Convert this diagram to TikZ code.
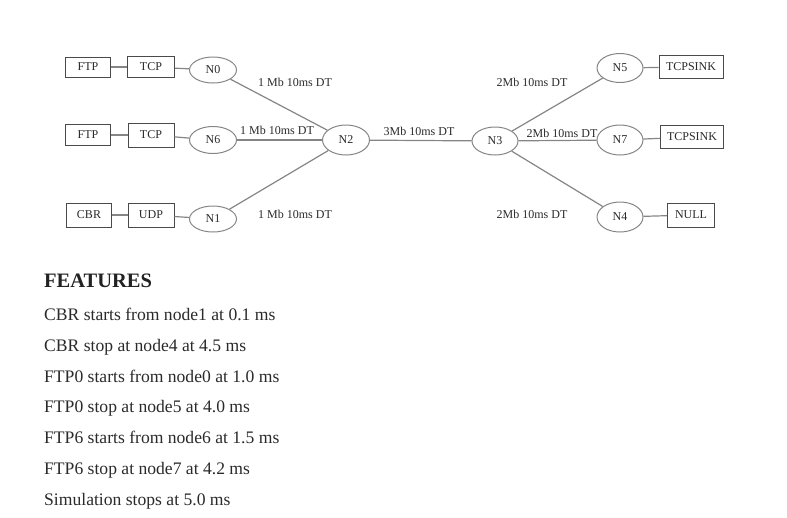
\documentclass[tikz,border=0pt]{standalone}
\usepackage{fontspec}
\setmainfont{Liberation Serif}
\usetikzlibrary{shapes.geometric}
\definecolor{ink}{HTML}{2A2A2A}
\definecolor{wire}{HTML}{858585}
\begin{document}
\begin{tikzpicture}[x=1pt,y=-1pt,
  box/.style={draw=ink!85,line width=0.9pt,rectangle,inner sep=0pt,font=\fontsize{12}{14}\selectfont,text=ink},
  nd/.style={draw=wire,line width=1pt,ellipse,inner sep=0pt,minimum width=47pt,minimum height=28pt,font=\fontsize{12}{14}\selectfont,text=ink},
  wirel/.style={draw=wire,line width=1.2pt},
  lbl/.style={font=\fontsize{12}{14}\selectfont,text=ink,inner sep=0pt},
  feat/.style={anchor=base west,inner sep=0pt,font=\fontsize{17.6}{20}\selectfont,text=ink}]
\useasboundingbox (0,0) rectangle (787,517);
% left column boxes
\node[box,minimum width=45pt,minimum height=20pt] (ftpa) at (88,67) {FTP};
\node[box,minimum width=47pt,minimum height=21pt] (tcpa) at (151,67) {TCP};
\node[nd,minimum height=26pt] (n0) at (213,70) {N0};
\node[box,minimum width=45pt,minimum height=21pt] (ftpb) at (88,135) {FTP};
\node[box,minimum width=46pt,minimum height=24pt] (tcpb) at (151,135) {TCP};
\node[nd,minimum height=27pt] (n6) at (213,140) {N6};
\node[box,minimum width=45pt,minimum height=24pt] (cbr) at (89,215) {CBR};
\node[box,minimum width=46pt,minimum height=24pt] (udp) at (151,215) {UDP};
\node[nd,minimum height=26pt] (n1) at (213,219) {N1};
% middle
\node[nd,minimum height=30pt] (n2) at (346,140) {N2};
\node[nd,minimum width=46pt,minimum height=28pt] (n3) at (495,141) {N3};
% right
\node[nd,minimum width=46pt,minimum height=29pt] (n5) at (620,68) {N5};
\node[nd,minimum width=46pt,minimum height=30pt] (n7) at (620,140) {N7};
\node[nd,minimum width=46pt,minimum height=30pt] (n4) at (620,217) {N4};
\node[box,minimum width=64pt,minimum height=23pt] (sinka) at (691,67) {TCPSINK};
\node[box,minimum width=63pt,minimum height=23pt] (sinkb) at (692,137) {TCPSINK};
\node[box,minimum width=47pt,minimum height=24pt] (null) at (691,215) {NULL};
% connectors
\draw[wirel] (ftpa) -- (tcpa);
\draw[wirel] (tcpa) -- (n0);
\draw[wirel] (ftpb) -- (tcpb);
\draw[wirel] (tcpb) -- (n6);
\draw[wirel] (cbr) -- (udp);
\draw[wirel] (udp) -- (n1);
\draw[wirel] (n0) -- (n2);
\draw[wirel] (n6) -- (n2);
\draw[wirel] (n1) -- (n2);
\draw[wirel] (n2) -- (n3);
\draw[wirel] (n3) -- (n5);
\draw[wirel] (n3) -- (n7);
\draw[wirel] (n3) -- (n4);
\draw[wirel] (n5) -- (sinka);
\draw[wirel] (n7) -- (sinkb);
\draw[wirel] (n4) -- (null);
% link labels
\node[lbl] (l1) at (295,82) {1 Mb 10ms DT};
\node[lbl] (l2) at (277,130) {1 Mb 10ms DT};
\node[lbl] (l3) at (295,214) {1 Mb 10ms DT};
\node[lbl] (l4) at (419,131) {3Mb 10ms DT};
\node[lbl] (l5) at (532,82) {2Mb 10ms DT};
\node[lbl] (l6) at (562,133) {2Mb 10ms DT};
\node[lbl] (l7) at (532,214) {2Mb 10ms DT};
% features
\node[anchor=base west,inner sep=0pt,font=\fontsize{20.5}{24}\selectfont\bfseries,text=ink!80!black] (fh) at (44,287) {FEATURES};
\node[feat] (f1) at (44,320) {CBR starts from node1 at 0.1 ms};
\node[feat] (f2) at (44,351) {CBR stop at node4 at 4.5 ms};
\node[feat] (f3) at (44,382) {FTP0 starts from node0 at 1.0 ms};
\node[feat] (f4) at (44,412) {FTP0 stop at node5 at 4.0 ms};
\node[feat] (f5) at (44,443) {FTP6 starts from node6 at 1.5 ms};
\node[feat] (f6) at (44,474) {FTP6 stop at node7 at 4.2 ms};
\node[feat] (f7) at (44,505) {Simulation stops at 5.0 ms};
\end{tikzpicture}
\end{document}
